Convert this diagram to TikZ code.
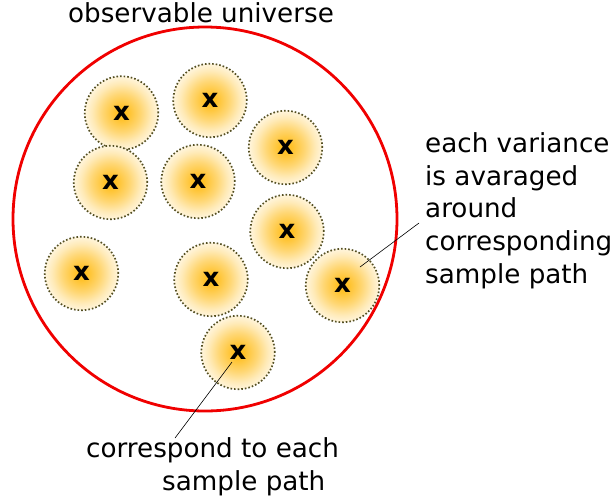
\documentclass[tikz,border=0pt]{standalone}
\usepackage{fontspec}
\setmainfont{DejaVu Sans}
\definecolor{blobcore}{RGB}{255,190,30}
\definecolor{blobline}{RGB}{85,80,35}
\definecolor{ringred}{RGB}{240,0,0}
\pgfdeclareradialshading{blobshade}{\pgfpoint{0bp}{0bp}}{%
  color(0bp)=(blobcore);
  color(4bp)=(blobcore!95!white);
  color(13bp)=(blobcore!62!white);
  color(20bp)=(blobcore!32!white);
  color(26bp)=(blobcore!12!white);
  color(31bp)=(white);
  color(50bp)=(white)}
\tikzset{
  blob/.style={circle, minimum size=73.5pt, inner sep=0pt, shading=blobshade,
    draw=blobline, line width=1.7pt, dash pattern=on 1.6pt off 2pt,
    font={\fontsize{26}{26}\selectfont\bfseries}},
  label text/.style={inner sep=0pt, align=left, font={\fontsize{26.2}{32.75}\selectfont}},
  leader/.style={draw=black, line width=0.6pt}
}
\begin{document}
\begin{tikzpicture}[x=1pt,y=-1pt]
\useasboundingbox (0,0) rectangle (615,499);
\node[circle, draw=ringred, line width=2.8pt, minimum size=384pt, inner sep=0pt] (universe) at (205,219) {};
\node[label text, anchor=base] (title) at (201,22) {observable universe};
\node[blob] (b1) at (121.5,113) {x};
\node[blob] (b2) at (210,100.5) {x};
\node[blob] (b3) at (285.5,147.5) {x};
\node[blob] (b4) at (110.5,182.5) {x};
\node[blob] (b5) at (198,181.5) {x};
\node[blob] (b6) at (287,231.5) {x};
\node[blob] (b7) at (81.5,273.5) {x};
\node[blob] (b8) at (211,279.5) {x};
\node[blob] (b9) at (342.5,285.5) {x};
\node[blob] (b10) at (238,352.5) {x};
\node[label text, anchor=north west] (righttext) at (425,132.2)
  {each variance\\is avaraged\\around\\corresponding\\sample path};
\node[label text, anchor=north west] (bottomtext) at (86,437.2)
  {correspond to each\\\hspace*{76pt}sample path};
\coordinate (r9) at (419,223);
\coordinate (e9) at (360,267);
\coordinate (r10) at (175,438);
\coordinate (e10) at (232,362);
\draw[leader] (r9) -- (e9);
\draw[leader] (r10) -- (e10);
\end{tikzpicture}
\end{document}
